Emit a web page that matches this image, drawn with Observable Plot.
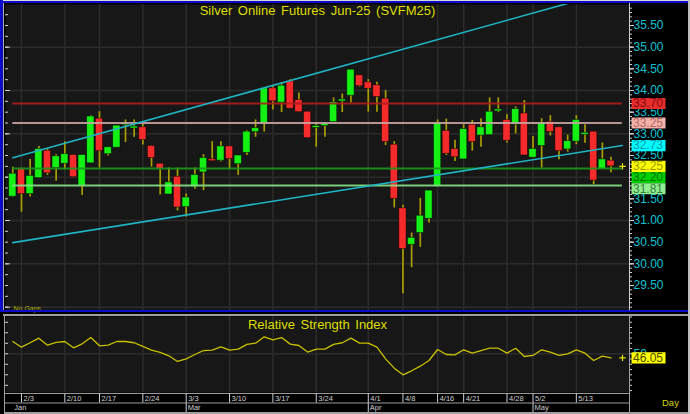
<!DOCTYPE html>
<html><head><meta charset="utf-8">
<script src="https://cdn.jsdelivr.net/npm/d3@7"></script>
<script src="https://cdn.jsdelivr.net/npm/@observablehq/plot@0.6"></script>
<style>
html,body{margin:0;padding:0;background:#000;}
#chart{position:relative;width:690px;height:414px;background:#000;overflow:hidden;font-family:"Liberation Sans",Arial,sans-serif;}
#chart svg{position:absolute;left:0;}
.ov{position:absolute;pointer-events:none;}
</style></head><body><div id="chart"></div>
<script>
// ---------------- DATA ----------------
const open  = [31.55,32.19,31.61,31.98,32.61,32.21,32.31,32.51,31.80,32.32,33.35,32.53,32.68,33.20,33.14,33.15,32.72,32.31,31.60,32.01,31.31,31.77,32.11,32.41,32.38,32.71,32.30,32.56,33.04,33.23,34.05,33.72,34.21,33.78,33.51,33.14,33.18,33.27,33.75,33.88,34.35,34.19,34.12,33.81,32.75,31.28,30.44,30.71,31.04,31.78,33.07,32.65,32.41,33.21,32.96,32.97,33.53,33.32,33.21,33.47,32.45,32.72,33.28,33.15,32.64,32.82,32.99,33.05,32.18,32.38];
const high  = [32.23,32.21,32.41,32.71,32.65,32.52,32.82,32.52,32.51,33.42,33.51,32.69,33.19,33.32,33.32,33.23,32.72,32.31,32.21,32.21,31.61,32.21,32.52,32.82,32.82,32.71,32.50,33.07,33.32,34.05,34.09,34.18,34.25,33.94,33.51,33.26,33.26,33.83,33.92,34.48,34.35,34.25,34.19,34.00,32.82,31.35,30.71,31.51,31.69,33.32,33.34,32.85,33.21,33.31,33.35,33.83,33.83,33.44,33.62,33.77,32.94,33.35,33.42,33.15,32.97,33.42,33.21,33.05,32.79,32.46];
const low   = [31.54,31.19,31.54,31.97,32.04,31.91,32.17,31.99,31.58,32.32,32.21,32.49,32.68,32.80,32.92,32.74,32.23,31.59,31.60,31.22,31.08,31.72,31.69,32.37,32.35,32.18,32.04,32.50,32.92,33.04,33.55,33.49,33.58,33.50,32.90,32.69,32.92,33.27,33.49,33.71,34.08,33.50,33.50,32.73,31.29,29.31,29.91,30.38,30.94,31.78,32.50,32.36,32.41,32.60,32.69,32.97,33.49,32.79,33.00,32.50,32.45,32.21,32.95,32.40,32.58,32.75,32.78,31.83,32.18,32.10];
const close = [32.08,31.61,32.03,32.65,32.09,32.48,32.53,32.00,32.51,33.40,32.60,32.69,33.19,33.25,33.15,32.86,32.44,32.19,31.88,31.30,31.53,32.05,32.44,32.37,32.71,32.42,32.50,33.05,33.13,34.05,33.75,34.11,33.58,33.50,32.90,33.18,33.23,33.73,33.79,34.48,34.10,34.04,33.85,32.81,31.50,30.34,30.60,31.11,31.69,33.25,32.54,32.46,33.11,32.81,33.15,33.51,33.55,32.84,33.57,32.50,32.65,33.26,33.04,32.60,32.83,33.32,33.01,31.92,32.41,32.25];
const rsi   = [61.7,56.3,60.5,64.9,58.2,60.8,61.7,55.7,59.5,65.5,57.6,58.2,61.7,61.7,60.5,57.0,53.5,51.3,48.1,42.7,45.2,49.3,53.1,53.5,56.6,53.5,54.4,58.9,60.1,66.2,63.3,65.5,59.2,57.9,51.6,54.4,54.4,58.9,60.5,64.9,60.1,60.1,56.3,45.2,36.3,30.0,33.8,38.2,43.6,54.1,49.3,49.0,53.8,50.6,53.1,55.3,55.3,50.6,55.3,47.4,48.4,53.8,51.6,48.4,50.0,53.8,50.6,43.6,47.7,46.05];
const dayTickIndex  = [1,6,10,15,20,25,30,35,41,45,49,52,57,60,65];
const dayTickLabels = ["2/3","2/10","2/17","2/24","3/3","3/10","3/17","3/24","4/1","4/8","4/16","4/21","4/28","5/2","5/13"];
const monthIndex  = [0,20,41,60];
const monthLabels = ["Jan","Mar","Apr","May"];
const priceTicks  = [29.5,30.0,30.5,31.0,31.5,32.0,32.5,33.0,33.5,34.0,34.5,35.0,35.5];
const levelValues = [33.70,33.25,32.20,31.81];
const upperTrend  = [[0,32.45],[70.3,36.36]];
const lowerTrend  = [[0,30.49],[70.3,32.73]];
const rsiTicks    = [50];
const titleText   = "Silver Online Futures Jun-25 (SVFM25)";
const rsiTitle    = "Relative Strength Index";

// ---------------- LAYOUT / STYLE ----------------
const W = 690, ML = 5, MR = 61;
const X_DOMAIN = [-0.842, 71.13];
const PRICE_DOMAIN = [28.923, 35.985];
const RSI_DOMAIN = [13.14, 85.5];
const C = {panel:"#171717", grid:"#2c2c2c", up:"#14f014", down:"#f52a2a", wick:"#a89e00",
  trend:"#1fb4c4", axisText:"#12c2d2", tick:"#cfcfcf", title:"#dede00", rsi:"#c8c000"};
const levelLine = ["#b01e1e","#c9a3a3","#1c961c","#86e086"];
const levelBox  = ["#e62e2e","#f3b3ab","#00d000","#90ee90"];
const levelFg   = ["#8a0a0a","#b36666","#006e00","#3d7d3d"];
const FONT = "'Liberation Sans', Arial, sans-serif";
const BOX_H = 11.2;
const boxSymbol = {draw(ctx){ ctx.moveTo(0,-BOX_H/2); ctx.lineTo(34,-BOX_H/2); ctx.lineTo(34,BOX_H/2); ctx.lineTo(0,BOX_H/2); ctx.closePath(); }};

const candles = open.map((o,i)=>({i, o, h: high[i], l: low[i], c: close[i]}));
const lineEnd = lowerTrend[1][0];
const levels = levelValues.map((v,k)=>({v, k}));
const bodyPad = d => Math.max(0, (0.045 - Math.abs(d.c - d.o)) / 2);

const root = document.getElementById("chart");
function place(svg, top){ svg.style.top = top + "px"; root.appendChild(svg); }
function ov(l,t,w,h,bg){ const d=document.createElement("div"); d.className="ov"; Object.assign(d.style,{left:l+"px",top:t+"px",width:w+"px",height:h+"px",background:bg}); root.appendChild(d); return d; }

const common = {width: W, marginLeft: ML, marginRight: MR, x: {domain: X_DOMAIN, axis: null},
  style: {background: "transparent", fontFamily: FONT, overflow: "visible"}};

// label placement (avoid overlaps) using the plot's own y scale
const mainH = 312, mainMT = 4, mainMB = 2;
const yProbe = Plot.plot({...common, height: mainH, marginTop: mainMT, marginBottom: mainMB,
  y: {domain: PRICE_DOMAIN, axis: null}, marks: [Plot.ruleY([30])]}).scale("y");
const labelItems = [
  ...levels.map(d => ({v: d.v, bg: levelBox[d.k], fg: levelFg[d.k]})),
  {v: lowerTrend[1][1], bg: "#00ffff", fg: "#009aa8"},
  {v: close[close.length-1], bg: "#ffff00", fg: "#9a9a00"}
].map(d => ({...d, px: yProbe.apply(d.v)})).sort((a,b) => a.px - b.px);
for (let k = 1; k < labelItems.length; k++)
  if (labelItems[k].px < labelItems[k-1].px + BOX_H) labelItems[k].px = labelItems[k-1].px + BOX_H;
labelItems.forEach(d => d.yDisp = yProbe.invert(d.px));
// axis tick labels completely hidden behind a label box are not drawn (as in the reference)
const visibleTicks = priceTicks.filter(t => !labelItems.some(b => Math.abs(yProbe.apply(t) - b.px) < 2.5));

// ---------------- MAIN PRICE PANEL ----------------
const mainPlot = Plot.plot({...common, height: mainH, marginTop: mainMT, marginBottom: mainMB,
  y: {domain: PRICE_DOMAIN, axis: null, label: null},
  color: {type: "identity"},
  marks: [
    Plot.frame({fill: C.panel, stroke: "none"}),
    Plot.ruleY(d3.range(29, 36), {stroke: C.grid, strokeWidth: 1.5}),
    Plot.ruleX(dayTickIndex, {stroke: C.grid, strokeWidth: 1.5}),
    Plot.ruleY(d3.range(29, 36, 0.25), {insetRight: 621, stroke: C.tick}),
    Plot.ruleY(d3.range(29, 36), {insetRight: 619, stroke: C.tick}),
    Plot.ruleX(candles, {x: "i", y1: "l", y2: "h", stroke: C.wick, strokeWidth: 1.7}),
    Plot.rect(candles, {x1: d => d.i - 0.42, x2: d => d.i + 0.42,
      y1: d => Math.min(d.o, d.c) - bodyPad(d), y2: d => Math.max(d.o, d.c) + bodyPad(d),
      fill: d => d.c >= d.o ? C.up : C.down, stroke: "#000", strokeWidth: 0.8, strokeOpacity: 0.6}),
    Plot.ruleY(levels, {y: "v", x1: 0, x2: lineEnd, stroke: d => levelLine[d.k], strokeWidth: 2, strokeOpacity: 0.9}),
    Plot.line(upperTrend, {x: d => d[0], y: d => d[1], stroke: C.trend, strokeWidth: 1.6, clip: true}),
    Plot.line(lowerTrend, {x: d => d[0], y: d => d[1], stroke: C.trend, strokeWidth: 1.6, clip: true}),
    Plot.axisY(d3.range(29.0, 36.0, 0.1), {anchor: "right", tickSize: 2, tickFormat: () => "", stroke: C.tick}),
    Plot.axisY(priceTicks, {anchor: "right", tickSize: 4, tickFormat: () => "", stroke: C.tick}),
    Plot.axisY(visibleTicks, {anchor: "right", tickSize: 4, tickPadding: 0, tickFormat: d => d.toFixed(2),
      fill: C.axisText, stroke: C.tick, fontSize: 12, textAnchor: "start"}),
    Plot.dot(labelItems, {y: "yDisp", frameAnchor: "right", dx: 2, symbol: boxSymbol, fill: "bg", stroke: "none"}),
    Plot.text(labelItems, {y: "yDisp", frameAnchor: "right", dx: 3.5, textAnchor: "start", text: d => d.v.toFixed(2), fill: "fg", fontSize: 12}),
    Plot.dot([close[close.length-1]], {y: d => d, frameAnchor: "right", dx: -7, symbol: "plus", r: 2.2, stroke: "#e8e800", strokeWidth: 1.2}),
    Plot.text([titleText], {text: d => d, frameAnchor: "top", lineAnchor: "middle", dy: 6.5, fill: C.title, fontSize: 13}),
    Plot.text(["No Gaps"], {text: d => d, frameAnchor: "bottom-left", lineAnchor: "bottom", textAnchor: "start", dx: 8, dy: 0, fill: "#b0b000", fontSize: 7})
  ]});
place(mainPlot, 0);

// ---------------- RSI PANEL ----------------
const rsiPlot = Plot.plot({...common, height: 80, marginTop: 4, marginBottom: 0,
  y: {domain: RSI_DOMAIN, axis: null, label: null},
  color: {type: "identity"},
  marks: [
    Plot.frame({fill: C.panel, stroke: "none"}),
    Plot.ruleY([50], {stroke: C.grid, strokeWidth: 1.5}),
    Plot.ruleX(dayTickIndex, {stroke: C.grid, strokeWidth: 1.5}),
    Plot.ruleY(d3.range(20, 81, 10), {insetRight: 621, stroke: C.tick}),
    Plot.line(rsi, {x: (d, i) => i, y: d => d, stroke: C.rsi, strokeWidth: 1.3}),
    Plot.axisY(d3.range(15, 86, 5), {anchor: "right", tickSize: 2, tickFormat: () => "", stroke: C.tick}),
    Plot.axisY(rsiTicks, {anchor: "right", tickSize: 0, tickPadding: 4, tickFormat: d => String(d), fill: C.axisText, fontSize: 12, textAnchor: "start"}),
    Plot.dot([rsi[rsi.length-1]], {y: d => d, frameAnchor: "right", dx: 2, symbol: boxSymbol, fill: "#ffff00", stroke: "none"}),
    Plot.text([rsi[rsi.length-1]], {y: d => d, frameAnchor: "right", dx: 3.5, textAnchor: "start", text: d => d.toFixed(2), fill: "#4a4a00", fontSize: 12}),
    Plot.dot([rsi[rsi.length-1]], {y: d => d, frameAnchor: "right", dx: -7, symbol: "plus", r: 2.2, stroke: "#e8e800", strokeWidth: 1.2}),
    Plot.text([rsiTitle], {text: d => d, frameAnchor: "top", lineAnchor: "middle", dy: 8.5, fill: C.title, fontSize: 13})
  ]});
place(rsiPlot, 312);

// ---------------- DATE AXIS ----------------
const dayTicks = dayTickIndex.map((i, k) => ({i, label: dayTickLabels[k]}));
const months = monthIndex.map((i, k) => ({i, label: monthLabels[k]}));
const axisPlot = Plot.plot({...common, height: 22, marginTop: 1, marginBottom: 2,
  y: {domain: [0, 2], axis: null},
  marks: [
    Plot.ruleY([0, 1, 2], {stroke: "#9a9a9a"}),
    Plot.ruleX(dayTicks, {x: "i", y1: 1, y2: 2, stroke: "#cfcfcf"}),
    Plot.text(dayTicks, {x: "i", y: 1.5, dx: 2, text: "label", textAnchor: "start", fill: "#d0d0d0", fontSize: 7.5}),
    Plot.ruleX(months.filter(d => d.i > 0), {x: "i", y1: 0, y2: 1, stroke: "#cfcfcf"}),
    Plot.text(months, {x: "i", y: 0.5, dx: 1.5, text: "label", textAnchor: "start", fill: "#d0d0d0", fontSize: 7.5})
  ]});
place(axisPlot, 392);

// word spacing on titles
d3.select(root).selectAll("text").filter(function(){ return this.textContent === titleText || this.textContent === rsiTitle; })
  .style("word-spacing", "2px");

// ---------------- FRAME DECORATION ----------------
ov(0, 0, 690, 1, "#d8d8d8");
ov(0, 1, 688, 2, "#0c0cc8");
ov(0, 0, 3, 312, "#0c0cc8");
ov(3, 3, 1, 308, "#a8a8a8");
ov(0, 310, 688, 2, "#0c0cc8");
ov(688, 0, 2, 414, "#bdbdbd");
ov(0, 312, 3, 102, "#000");
ov(3, 314, 685, 1.5, "#a0a0a0");
ov(4, 315, 1, 97, "#a0a0a0");
ov(629, 3, 1, 307, "#d0d0d0");
ov(629, 315, 1, 97, "#a0a0a0");
ov(4, 412, 684, 2, "#a0a0a0");
const day = document.createElement("div");
day.className = "ov";
Object.assign(day.style, {left: "662px", top: "397px", color: "#d4d400", fontSize: "9.5px", fontFamily: FONT});
day.textContent = "Day";
root.appendChild(day);
</script></body></html>
